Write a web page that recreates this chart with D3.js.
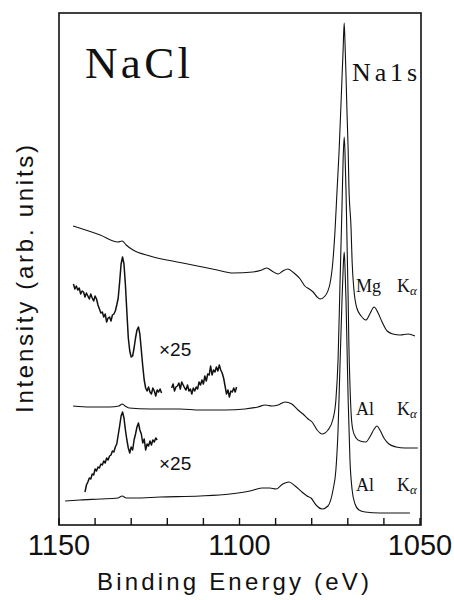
<!DOCTYPE html>
<html>
<head>
<meta charset="utf-8">
<script src="https://cdn.jsdelivr.net/npm/d3@7"></script>
<style>
  body { margin: 0; background: #fff; }
  svg { display: block; }
  .serif { font-family: "Liberation Serif", "DejaVu Serif", serif; fill: #111; }
  .sans { font-family: "Liberation Sans", Arial, sans-serif; fill: #111; }
</style>
</head>
<body>
<svg width="454" height="600"></svg>
<script>
// binding energy (eV), intensity (arb. units)
const mgKa = [
  [1146.1, 299], [1138.6, 290], [1133.7, 283], [1132.5, 284], [1131.4, 280], [1129.5, 275],
  [1124.8, 269], [1115.7, 262], [1106.2, 255], [1101.8, 252], [1096.3, 253], [1093.8, 255],
  [1092.4, 257], [1091.0, 254], [1089.3, 251], [1088.0, 254], [1086.6, 256], [1084.9, 252],
  [1083.2, 246], [1081.9, 239], [1080.7, 236], [1079.6, 233], [1078.5, 228], [1077.7, 226],
  [1076.3, 229], [1074.9, 242], [1074.1, 265], [1073.5, 297], [1073.0, 333], [1072.4, 375],
  [1071.9, 420], [1071.3, 475], [1071.0, 502], [1070.8, 485], [1070.5, 450], [1070.2, 410],
  [1069.9, 375], [1069.7, 340], [1069.1, 297], [1068.8, 263], [1068.3, 235], [1067.5, 217],
  [1066.3, 209], [1065.0, 205], [1063.9, 211], [1062.7, 218], [1061.6, 212], [1060.5, 203],
  [1059.1, 194], [1057.5, 191], [1055.5, 190], [1053.3, 191], [1051.4, 189]
];

const alKa1 = [
  [1146.1, 119], [1141.4, 118], [1135.9, 118], [1133.4, 119], [1132.5, 121], [1131.7, 119],
  [1130.6, 117], [1124.8, 116], [1116.5, 116], [1110.9, 115], [1104.0, 115], [1098.5, 116],
  [1094.9, 118], [1092.9, 120], [1091.0, 119], [1089.3, 120], [1087.4, 123], [1085.5, 121],
  [1083.8, 115], [1082.4, 111], [1081.0, 106], [1079.9, 103], [1078.5, 95], [1077.1, 91],
  [1075.5, 95], [1074.1, 106], [1073.3, 125], [1072.7, 165], [1072.2, 235], [1071.6, 320],
  [1071.3, 365], [1071.0, 388], [1070.8, 375], [1070.5, 335], [1070.2, 280], [1069.9, 225],
  [1069.7, 180], [1069.4, 140], [1069.1, 113], [1068.6, 95], [1067.7, 87], [1066.6, 84],
  [1065.0, 83], [1063.9, 88], [1062.7, 96], [1061.9, 99], [1061.1, 95], [1060.0, 87],
  [1058.6, 81], [1056.6, 78], [1054.2, 77], [1050.6, 77]
];

const alKa2 = [
  [1148.3, 24], [1144.2, 25], [1138.6, 26], [1133.7, 27], [1132.5, 29], [1131.4, 27],
  [1128.9, 27], [1122.0, 28], [1110.9, 29], [1102.6, 31], [1097.1, 34], [1093.8, 37],
  [1091.6, 37], [1089.9, 36], [1088.0, 41], [1086.3, 43], [1084.6, 39], [1082.7, 33],
  [1081.3, 29], [1080.2, 27], [1078.8, 20], [1077.1, 16], [1075.5, 19], [1074.1, 35],
  [1073.3, 55], [1072.7, 95], [1072.2, 155], [1071.6, 225], [1071.3, 255], [1071.0, 273],
  [1070.8, 260], [1070.5, 225], [1070.2, 175], [1069.9, 125], [1069.4, 65], [1068.8, 35],
  [1068.0, 21], [1066.9, 15], [1065.2, 13], [1061.1, 12], [1052.8, 12]
];

// x25 magnified regions, sampled every 0.4 eV
const zoomStep = 0.4;
const zoomAStart = 1146.0;
const zoomA = [
  241, 236, 239, 235, 237, 231, 234, 233, 228, 232, 229, 226, 231, 227, 224, 229,
  226, 220, 216, 212, 213, 208, 211, 203, 207, 208, 204, 210, 211, 214, 220, 227,
  243, 261, 268, 261, 240, 213, 187, 174, 168, 169, 177, 187, 195, 198, 191, 175,
  159, 145, 137, 134, 138, 133, 131, 137, 134, 129, 135, 133, 136, 132
];
const zoomBStart = 1118.8;
const zoomB = [
  137, 141, 134, 138, 139, 142, 136, 143, 140, 137, 135, 140, 134, 136, 131, 137,
  134, 138, 136, 143, 140, 145, 141, 149, 144, 151, 150, 159, 150, 155, 153, 158,
  154, 160, 155, 152, 147, 139, 131, 135, 128, 134, 133, 137, 133, 138
];
const zoomCStart = 1142.8;
const zoomC = [
  33, 40, 43, 47, 46, 51, 50, 56, 54, 58, 57, 61, 60, 64, 62, 67,
  65, 69, 70, 74, 73, 78, 81, 90, 99, 109, 113, 107, 95, 85, 77, 72,
  78, 75, 85, 91, 98, 102, 95, 91, 82, 86, 75, 81, 79, 84, 80, 85,
  83, 87, 85
];

const xTicks = d3.range(1150, 1049, -10);
const xLabels = [1150, 1100, 1050];

const svg = d3.select("svg");
const pLeft = 59, pRight = 421, pTop = 13, pBottom = 525;

const x = d3.scaleLinear().domain([1150, 1050]).range([pLeft, 420]);
const y = d3.scaleLinear().domain([0, 512]).range([pBottom, pTop]);

const smooth = d3.line().x(d => x(d[0])).y(d => y(d[1])).curve(d3.curveMonotoneX);
const raw = d3.line().x(d => x(d[0])).y(d => y(d[1]));

const withEnergy = (start, vals) => vals.map((v, i) => [start - i * zoomStep, v]);

const plot = svg.append("g");
[mgKa, alKa1, alKa2].forEach(s => {
  plot.append("path").attr("d", smooth(s))
    .attr("fill", "none").attr("stroke", "#111").attr("stroke-width", 1.1);
});
[withEnergy(zoomAStart, zoomA), withEnergy(zoomBStart, zoomB), withEnergy(zoomCStart, zoomC)].forEach(s => {
  plot.append("path").attr("d", raw(s))
    .attr("fill", "none").attr("stroke", "#111").attr("stroke-width", 1.5)
    .attr("stroke-linejoin", "round");
});

// frame
svg.append("rect")
  .attr("x", pLeft).attr("y", pTop)
  .attr("width", pRight - pLeft).attr("height", pBottom - pTop)
  .attr("fill", "none").attr("stroke", "#111").attr("stroke-width", 1.6);

// ticks (inward)
svg.append("g").selectAll("line").data(xTicks).join("line")
  .attr("x1", d => x(d)).attr("x2", d => x(d))
  .attr("y1", pBottom).attr("y2", pBottom - 7)
  .attr("stroke", "#111").attr("stroke-width", 1.4);

svg.append("g").selectAll("text").data(xLabels).join("text")
  .attr("class", "sans")
  .attr("x", d => x(d)).attr("y", 555)
  .attr("text-anchor", "middle")
  .attr("font-size", 29)
  .text(d => d);

svg.append("text").attr("class", "sans")
  .attr("x", 233).attr("y", 590)
  .attr("text-anchor", "middle").attr("font-size", 24)
  .attr("textLength", 272).attr("lengthAdjust", "spacing")
  .text("Binding Energy (eV)");

svg.append("text").attr("class", "sans")
  .attr("transform", "translate(33,279) rotate(-90)")
  .attr("text-anchor", "middle").attr("font-size", 24)
  .attr("textLength", 268).attr("lengthAdjust", "spacing")
  .text("Intensity (arb. units)");

// annotations
svg.append("text").attr("class", "serif")
  .attr("x", 85).attr("y", 78).attr("font-size", 45)
  .attr("textLength", 105).attr("lengthAdjust", "spacing")
  .text("NaCl");

svg.append("text").attr("class", "serif")
  .attr("x", 352).attr("y", 81).attr("font-size", 26)
  .attr("textLength", 65).attr("lengthAdjust", "spacing")
  .text("Na1s");

function source(name, yPos) {
  const t = svg.append("text").attr("class", "serif")
    .attr("x", 356).attr("y", yPos).attr("font-size", 18);
  t.append("tspan").text(name);
  t.append("tspan").attr("x", 397).text("K");
  t.append("tspan").attr("font-size", 13).attr("font-style", "italic")
    .attr("dy", 3).text("α");
}
source("Mg", 292);
source("Al", 415);
source("Al", 491);

svg.append("text").attr("class", "sans")
  .attr("x", 159).attr("y", 356).attr("font-size", 19).text("×25");
svg.append("text").attr("class", "sans")
  .attr("x", 159).attr("y", 470).attr("font-size", 19).text("×25");
</script>
</body>
</html>
